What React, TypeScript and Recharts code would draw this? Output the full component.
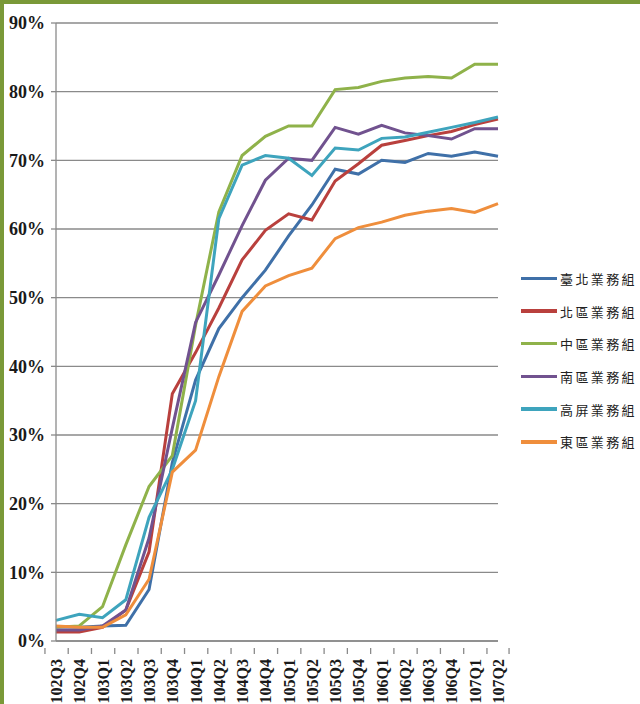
import React from "react";
import { LineChart, Line, XAxis, YAxis, CartesianGrid } from "recharts";

const quarters = [
  "102Q3", "102Q4", "103Q1", "103Q2", "103Q3", "103Q4", "104Q1", "104Q2", "104Q3", "104Q4",
  "105Q1", "105Q2", "105Q3", "105Q4", "106Q1", "106Q2", "106Q3", "106Q4", "107Q1", "107Q2",
];

// values in percent
const taipei = [2.1, 2.0, 2.2, 2.3, 7.5, 26, 38, 45.5, 50, 54, 59, 63.5, 68.7, 68, 70, 69.7, 71, 70.6, 71.2, 70.6];
const north = [1.3, 1.3, 2.0, 4.5, 13, 36, 42, 48.5, 55.5, 59.8, 62.2, 61.3, 67, 69.5, 72.2, 72.9, 73.6, 74.2, 75.2, 76];
const central = [2.0, 2.2, 5.0, 14, 22.5, 27, 46, 62.5, 70.7, 73.5, 75, 75, 80.3, 80.6, 81.5, 82, 82.2, 82, 84, 84];
const south = [1.6, 1.6, 2.2, 4.5, 15, 31, 46.4, 53.3, 60.5, 67.1, 70.3, 70, 74.8, 73.8, 75.1, 74, 73.6, 73.1, 74.6, 74.6];
const kaoping = [3.0, 3.9, 3.4, 6, 18, 25, 35, 61.5, 69.3, 70.7, 70.3, 67.8, 71.8, 71.5, 73.2, 73.4, 74.1, 74.8, 75.5, 76.3];
const east = [2.2, 2.0, 2.0, 3.8, 9, 24.6, 27.8, 38.5, 48, 51.7, 53.2, 54.3, 58.6, 60.2, 61, 62, 62.6, 63, 62.4, 63.7];

const yTicks = [0, 10, 20, 30, 40, 50, 60, 70, 80, 90];

const SERIES = [
  { key: "taipei", name: "臺北業務組", color: "#3f70a8", values: taipei },
  { key: "north", name: "北區業務組", color: "#b9403d", values: north },
  { key: "central", name: "中區業務組", color: "#8fb24a", values: central },
  { key: "south", name: "南區業務組", color: "#71528f", values: south },
  { key: "kaoping", name: "高屏業務組", color: "#3ea4bd", values: kaoping },
  { key: "east", name: "東區業務組", color: "#ef8e3c", values: east },
];

const data = quarters.map((q, i) => {
  const row: Record<string, string | number> = { q };
  SERIES.forEach((s) => {
    row[s.key] = s.values[i];
  });
  return row;
});

const W = 640;
const H = 704;
const PLOT_RIGHT = 498;
const BAND = (PLOT_RIGHT - 56) / quarters.length;
const AXIS_GRAY = "#8a8a8a";
const SERIF = '"Liberation Serif", "Times New Roman", serif';

function QuarterTick(props: any) {
  const { x, y, payload, index } = props;
  const isLast = index === quarters.length - 1;
  return (
    <g>
      <line x1={x - BAND / 2} x2={x - BAND / 2} y1={y - 1} y2={y + 5} stroke={AXIS_GRAY} strokeWidth={1.3} />
      {isLast && (
        <line x1={x + BAND / 2} x2={x + BAND / 2} y1={y - 1} y2={y + 5} stroke={AXIS_GRAY} strokeWidth={1.3} />
      )}
      <text
        transform={`translate(${x + 6},${y + 10}) rotate(-90)`}
        textAnchor="end"
        fontFamily={SERIF}
        fontWeight="bold"
        fontSize={16}
        fill="#1a1a1a"
      >
        {payload.value}
      </text>
    </g>
  );
}

function SideLegend() {
  return (
    <div style={{ position: "absolute", left: 521, top: 262 }}>
      {SERIES.map((s) => (
        <div key={s.key} style={{ display: "flex", alignItems: "center", height: 32.7 }}>
          <div style={{ width: 36, height: 3.5, background: s.color }} />
          <span
            style={{
              marginLeft: 3,
              fontFamily: '"Noto Sans CJK TC", sans-serif',
              fontSize: 13,
              letterSpacing: 2.4,
              color: "#222",
              whiteSpace: "nowrap",
            }}
          >
            {s.name}
          </span>
        </div>
      ))}
    </div>
  );
}

export default function App() {
  return (
    <div
      style={{
        position: "absolute",
        left: 0,
        top: 0,
        width: W,
        height: H,
        overflow: "hidden",
        background: "#fff",
      }}
    >
      <div style={{ position: "absolute", left: 0, top: 0, width: 4, height: H, background: "#7a9938" }} />
      <div style={{ position: "absolute", left: 0, top: 0, width: W, height: 4, background: "#7a9938" }} />
      <LineChart width={W} height={H} data={data} margin={{ top: 23, right: W - PLOT_RIGHT, bottom: 0, left: 6 }}>
        <CartesianGrid horizontal vertical={false} stroke={AXIS_GRAY} strokeWidth={1.3} />
        <XAxis
          dataKey="q"
          interval={0}
          height={H - 641}
          stroke={AXIS_GRAY}
          strokeWidth={1.3}
          tickLine={false}
          tick={<QuarterTick />}
        />
        <YAxis
          domain={[0, 90]}
          ticks={yTicks}
          width={50}
          stroke={AXIS_GRAY}
          strokeWidth={1.3}
          tickSize={5}
          tickMargin={6}
          tickFormatter={(v: number) => `${v}%`}
          tick={{ fontFamily: SERIF, fontWeight: "bold", fontSize: 18, fill: "#1a1a1a" }}
        />
        {SERIES.map((s) => (
          <Line
            key={s.key}
            type="linear"
            dataKey={s.key}
            name={s.name}
            stroke={s.color}
            strokeWidth={3}
            dot={false}
            activeDot={false}
            isAnimationActive={false}
          />
        ))}
      </LineChart>
      <SideLegend />
    </div>
  );
}
